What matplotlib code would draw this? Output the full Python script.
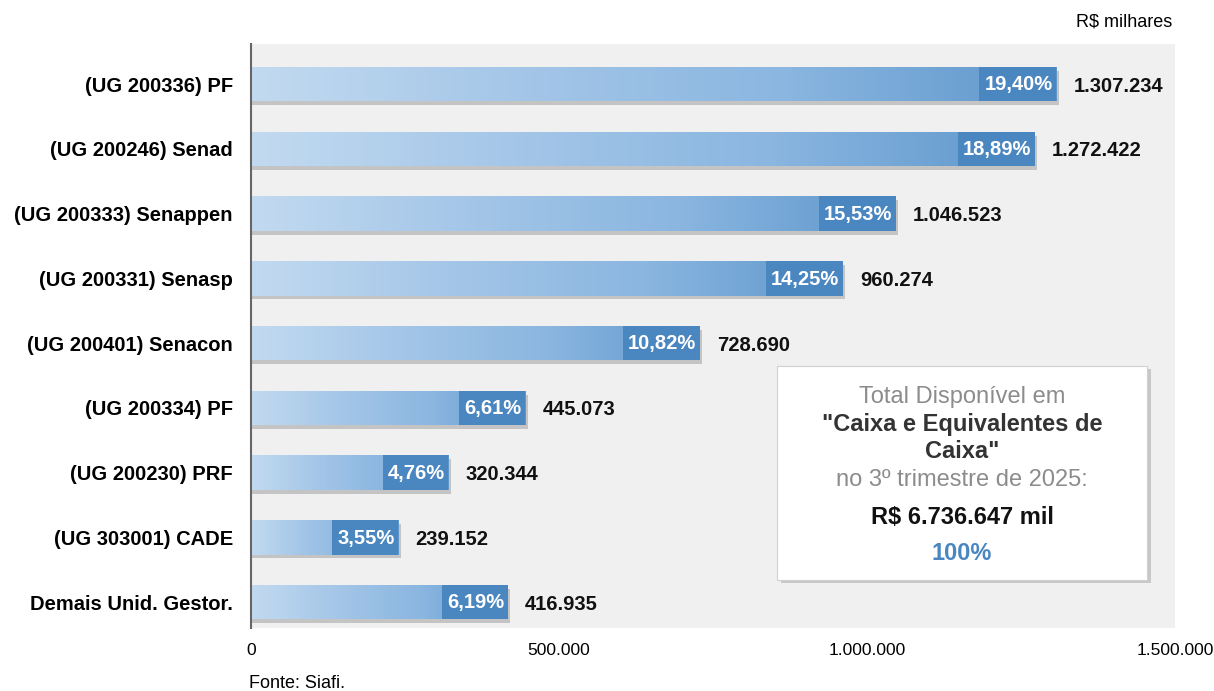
import numpy as np
import matplotlib.pyplot as plt
from matplotlib.patches import Rectangle
from matplotlib.colors import LinearSegmentedColormap

plt.rcParams['font.family'] = ['Liberation Sans', 'DejaVu Sans']

unidades = ['(UG 200336) PF', '(UG 200246) Senad', '(UG 200333) Senappen',
            '(UG 200331) Senasp', '(UG 200401) Senacon', '(UG 200334) PF',
            '(UG 200230) PRF', '(UG 303001) CADE', 'Demais Unid. Gestor.']
valores = [1307234, 1272422, 1046523, 960274, 728690, 445073, 320344, 239152, 416935]
percentuais = ['19,40%', '18,89%', '15,53%', '14,25%', '10,82%', '6,61%', '4,76%', '3,55%', '6,19%']
xticks = [0, 500000, 1000000, 1500000]
xticklabels = ['0', '500.000', '1.000.000', '1.500.000']

fig = plt.figure(figsize=(12.14, 6.91), dpi=100)
ax = fig.add_axes([251/1214, 1 - 628/691, 924/1214, 584/691])
ax.set_facecolor('#f0f0f0')
ax.set_xlim(0, 1500000)
ax.set_ylim(8.4, -0.62)

cmap = LinearSegmentedColormap.from_list('azul', ['#c2daf0', '#a4c6e8', '#8ab6e0', '#5f97cc'])
grad = np.linspace(0, 1, 256).reshape(1, -1)
h = 0.53

textos_pct = []
for i, v in enumerate(valores):
    # sombra
    ax.add_patch(Rectangle((0, i - h / 2 + 0.06), v + 4000, h, facecolor='#9a9a9a',
                           alpha=0.5, edgecolor='none', zorder=1))
    im = ax.imshow(grad, cmap=cmap, aspect='auto', extent=(0, v, i + h / 2, i - h / 2),
                   zorder=2, interpolation='bicubic')
    r = Rectangle((0, i - h / 2), v, h, facecolor='none', edgecolor='none', zorder=2)
    ax.add_patch(r)
    im.set_clip_path(r)
    t = ax.text(v - 6000, i + 0.01, percentuais[i], ha='right', va='center', color='white',
                fontsize=14.5, fontweight='bold', zorder=4)
    textos_pct.append(t)
    ax.text(v + 28000, i + 0.03, f'{v:,}'.replace(',', '.'), ha='left', va='center',
            color='#111111', fontsize=14.5, fontweight='bold', zorder=4)

# fundo azul escuro atras do percentual
fig.canvas.draw()
inv = ax.transData.inverted()
for i, t in enumerate(textos_pct):
    bb = t.get_window_extent()
    x0 = inv.transform((bb.x0 - 5, 0))[0]
    ax.add_patch(Rectangle((x0, i - h / 2), valores[i] - x0, h, facecolor='#4a86c0',
                           edgecolor='none', zorder=3))

ax.set_xticks(xticks)
ax.set_xticklabels(xticklabels, fontsize=12.5)
ax.set_yticks(range(len(unidades)))
ax.set_yticklabels(unidades, fontsize=14.5, fontweight='bold')
ax.tick_params(axis='both', length=0)
ax.tick_params(axis='x', pad=11)
ax.tick_params(axis='y', pad=13)
for s in ['top', 'right', 'bottom']:
    ax.spines[s].set_visible(False)
ax.spines['left'].set_color('#666666')
ax.spines['left'].set_linewidth(1.5)
ax.spines['left'].set_zorder(5)

# caixa de total
bx0, by0, bw, bh = 777/1214, 1 - 580/691, 370/1214, 214/691
fig.patches.append(Rectangle((bx0 + 0.003, by0 - 0.005), bw, bh, transform=fig.transFigure,
                             facecolor='#b8b8b8', edgecolor='none', alpha=0.7, zorder=5))
fig.patches.append(Rectangle((bx0, by0), bw, bh, transform=fig.transFigure,
                             facecolor='white', edgecolor='#d0d0d0', lw=0.8, zorder=6))
cx = bx0 + bw / 2
fig.text(cx, 1 - 397/691, 'Total Disponível em', ha='center', va='center',
         fontsize=17, color='#8c8c8c', zorder=7)
fig.text(cx, 1 - 424/691, '"Caixa e Equivalentes de', ha='center', va='center',
         fontsize=17, color='#333333', fontweight='bold', zorder=7)
fig.text(cx, 1 - 452/691, 'Caixa"', ha='center', va='center',
         fontsize=17, color='#333333', fontweight='bold', zorder=7)
fig.text(cx, 1 - 480/691, 'no 3º trimestre de 2025:', ha='center', va='center',
         fontsize=17, color='#8c8c8c', zorder=7)
fig.text(cx, 1 - 517/691, 'R$ 6.736.647 mil', ha='center', va='center',
         fontsize=17, color='#111111', fontweight='bold', zorder=7)
fig.text(cx, 1 - 553/691, '100%', ha='center', va='center',
         fontsize=17, color='#4a86c0', fontweight='bold', zorder=7)

fig.text(1172/1214, 1 - 22/691, 'R$ milhares', ha='right', va='center', fontsize=13)
fig.text(249/1214, 1 - 683/691, 'Fonte: Siafi.', ha='left', va='center', fontsize=13)

fig.savefig('out.png', dpi=100)
